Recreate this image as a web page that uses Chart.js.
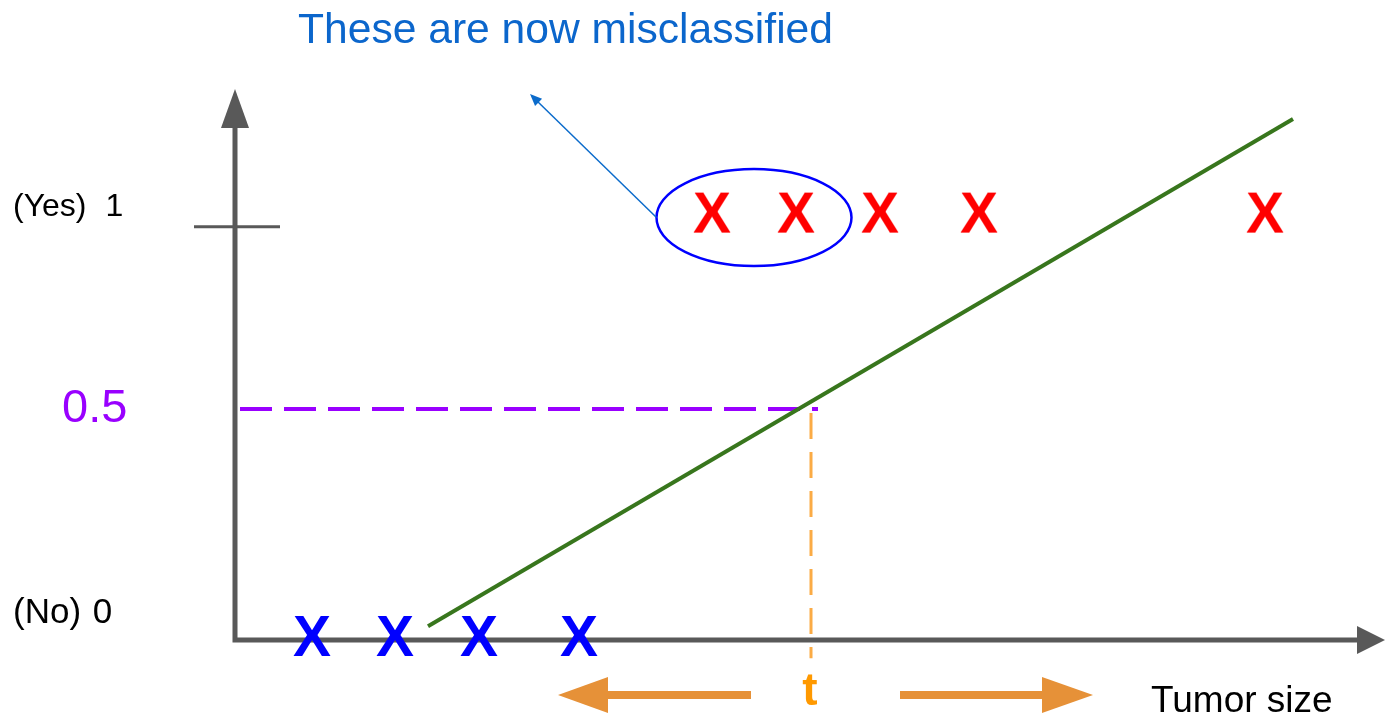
<!DOCTYPE html>
<html>
<head>
<meta charset="utf-8">
<script src="https://cdn.jsdelivr.net/npm/chart.js@4.4.1/dist/chart.umd.min.js"></script>
<style>
  html, body { margin: 0; padding: 0; background: #ffffff; overflow: hidden; }
  #grafico { display: block; }
</style>
</head>
<body>
<canvas id="grafico" width="1386" height="715"></canvas>
<script>
// tumour sizes of the benign (0) and malignant (1) samples
const negativeSizes = [0.77, 1.6, 2.44, 3.44];
const negativeLevel = -0.06;
const positiveSizes = [4.77, 5.61, 6.45, 7.44, 10.3];
const positiveLevel = 0.985;

// straight-line fit
const fitSizes = [1.93, 10.58];
const fitValues = [-0.036, 1.216];

// threshold 0.5 and the size t where the fit crosses it
const thresholdValue = 0.5;
const thresholdStart = 0.05;
const thresholdEnd = 5.83;
const tSize = 5.76;
const tDrop = [0.49, -0.115];

// y axis labels
const yTickValues = [1, 0.5, 0];
const yTickLabels = ['(Yes) 1', '0.5', '(No) 0'];
const yTickMark = 0.95;

const titleText = 'These are now misclassified';
const xAxisTitle = 'Tumor size';
const tLabel = 't';

const FONT = '"Liberation Sans", Arial, sans-serif';

window.addEventListener('load', function() {

    function glyphX(cor) {
        const c = document.createElement('canvas');
        c.width = 46; c.height = 46;
        const g = c.getContext('2d');
        g.font = 'bold 57px ' + FONT;
        g.fillStyle = cor;
        g.textAlign = 'center';
        g.textBaseline = 'alphabetic';
        g.fillText('X', 23, 23 + 0.716 * 57 / 2);
        return c;
    }

    function seta(ctx, x1, y1, x2, y2, comp, meia) {
        const a = Math.atan2(y2 - y1, x2 - x1);
        ctx.beginPath();
        ctx.moveTo(x2, y2);
        ctx.lineTo(x2 - comp * Math.cos(a) + meia * Math.sin(a), y2 - comp * Math.sin(a) - meia * Math.cos(a));
        ctx.lineTo(x2 - comp * Math.cos(a) - meia * Math.sin(a), y2 - comp * Math.sin(a) + meia * Math.cos(a));
        ctx.closePath();
        ctx.fill();
    }

    // axes, arrows and the tick mark go underneath the points
    const eixos = {
        id: 'eixos',
        beforeDatasetsDraw(chart) {
            const ctx = chart.ctx;
            const a = chart.chartArea;
            const y = chart.scales.y;
            ctx.save();
            ctx.strokeStyle = '#595959';
            ctx.fillStyle = '#595959';
            ctx.lineWidth = 5;
            ctx.lineJoin = 'miter';
            ctx.beginPath();
            ctx.moveTo(a.left, a.top + 38);
            ctx.lineTo(a.left, a.bottom);
            ctx.lineTo(a.right - 28, a.bottom);
            ctx.stroke();
            seta(ctx, a.left, a.bottom, a.left, a.top, 39, 14);
            seta(ctx, a.left, a.bottom, a.right, a.bottom, 28, 14);

            ctx.lineWidth = 3;
            const yt = y.getPixelForValue(yTickMark);
            ctx.beginPath();
            ctx.moveTo(a.left - 41, yt);
            ctx.lineTo(a.left + 45, yt);
            ctx.stroke();
            ctx.restore();
        }
    };

    // texts, ellipse and the annotation arrows
    const anotacoes = {
        id: 'anotacoes',
        afterDatasetsDraw(chart) {
            const ctx = chart.ctx;
            const a = chart.chartArea;
            const x = chart.scales.x;
            const y = chart.scales.y;
            ctx.save();
            ctx.textBaseline = 'alphabetic';
            ctx.textAlign = 'left';

            const estilos = [
                { font: '32px ' + FONT, cor: '#000000', left: 13, dy: 10, ws: '10px' },
                { font: '47px ' + FONT, cor: '#9900ff', left: 62, dy: 13, ws: '0px' },
                { font: '35px ' + FONT, cor: '#000000', left: 13, dy: 11.4, ws: '2px' }
            ];
            yTickValues.forEach((v, i) => {
                const s = estilos[i];
                ctx.font = s.font;
                ctx.fillStyle = s.cor;
                ctx.wordSpacing = s.ws;
                ctx.fillText(yTickLabels[i], s.left, y.getPixelForValue(v) + s.dy);
            });
            ctx.wordSpacing = '0px';

            ctx.font = '42.6px ' + FONT;
            ctx.fillStyle = '#0b66cc';
            ctx.fillText(titleText, 298, 43);

            ctx.font = '37px ' + FONT;
            ctx.fillStyle = '#000000';
            ctx.fillText(xAxisTitle, 1151, 712);

            const xt = x.getPixelForValue(tSize);
            ctx.font = 'bold 46px ' + FONT;
            ctx.fillStyle = '#ff9900';
            ctx.textAlign = 'center';
            ctx.fillText(tLabel, xt - 1, 705);

            // orange arrows either side of t
            const ya = a.bottom + 55;
            ctx.strokeStyle = '#e69138';
            ctx.fillStyle = '#e69138';
            ctx.lineWidth = 8;
            ctx.beginPath();
            ctx.moveTo(xt - 60, ya);
            ctx.lineTo(xt - 205, ya);
            ctx.moveTo(xt + 89, ya);
            ctx.lineTo(xt + 233, ya);
            ctx.stroke();
            seta(ctx, xt, ya, xt - 253, ya, 50, 18);
            seta(ctx, xt, ya, xt + 282, ya, 51, 18);

            // ellipse round the first two positives
            const pts = chart.getDatasetMeta(1).data;
            const cx = (pts[0].x + pts[1].x) / 2;
            const cy = (pts[0].y + pts[1].y) / 2 + 5;
            ctx.strokeStyle = '#0000ff';
            ctx.lineWidth = 2.5;
            ctx.beginPath();
            ctx.ellipse(cx, cy, 97.5, 48.5, 0, 0, Math.PI * 2);
            ctx.stroke();

            ctx.strokeStyle = '#0b6bcb';
            ctx.fillStyle = '#0b6bcb';
            ctx.lineWidth = 1.5;
            ctx.beginPath();
            ctx.moveTo(cx - 97.5, cy);
            ctx.lineTo(536, 100);
            ctx.stroke();
            seta(ctx, cx - 97.5, cy, 530, 94, 12, 5);
            ctx.restore();
        }
    };

    const ctx = document.getElementById('grafico').getContext('2d');
    new Chart(ctx, {
        type: 'scatter',
        data: {
            datasets: [
                {
                    label: 'Benigno',
                    data: negativeSizes.map(s => ({ x: s, y: negativeLevel })),
                    pointStyle: glyphX('#0000ff'),
                    pointRadius: 20,
                    clip: false
                },
                {
                    label: 'Maligno',
                    data: positiveSizes.map(s => ({ x: s, y: positiveLevel })),
                    pointStyle: glyphX('#ff0000'),
                    pointRadius: 20,
                    clip: false
                },
                {
                    label: 'Ajuste',
                    data: fitSizes.map((s, i) => ({ x: s, y: fitValues[i] })),
                    showLine: true,
                    borderColor: '#38761d',
                    borderWidth: 4,
                    pointRadius: 0,
                    clip: false
                },
                {
                    label: 'Limiar',
                    data: [{ x: thresholdStart, y: thresholdValue }, { x: thresholdEnd, y: thresholdValue }],
                    showLine: true,
                    borderColor: '#9900ff',
                    borderWidth: 4,
                    borderDash: [32, 12],
                    pointRadius: 0,
                    clip: false
                },
                {
                    label: 't',
                    data: tDrop.map(v => ({ x: tSize, y: v })),
                    showLine: true,
                    borderColor: '#fbab45',
                    borderWidth: 3,
                    borderDash: [26, 13],
                    pointRadius: 0,
                    clip: false
                }
            ]
        },
        options: {
            responsive: false,
            devicePixelRatio: 1,
            animation: false,
            events: [],
            layout: { autoPadding: false, padding: { left: 235, right: 1, top: 89, bottom: 75 } },
            plugins: {
                legend: { display: false },
                tooltip: { enabled: false },
                title: { display: false }
            },
            scales: {
                x: { type: 'linear', min: 0, max: 11.5, display: false },
                y: { type: 'linear', min: -0.07, max: 1.29, display: false }
            }
        },
        plugins: [eixos, anotacoes]
    });
});
</script>
</body>
</html>
